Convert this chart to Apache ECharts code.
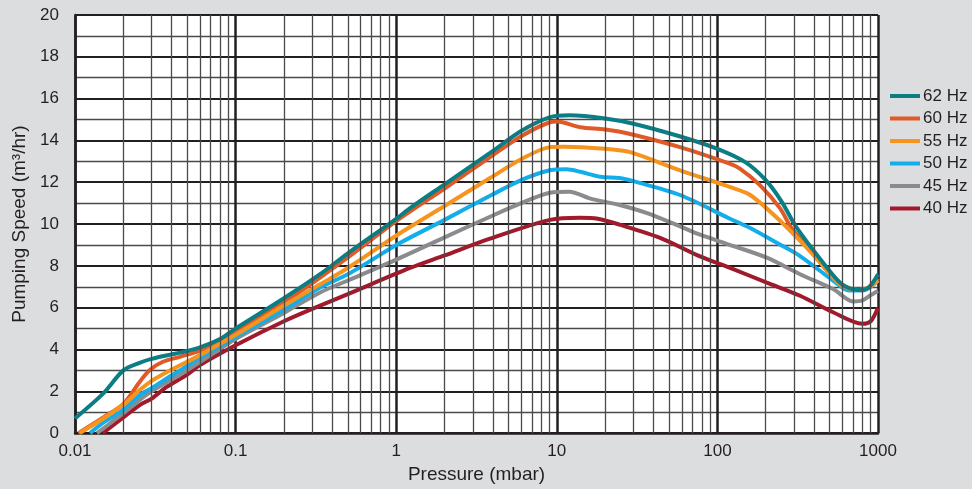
<!DOCTYPE html>
<html lang="en">
<head>
    <meta charset="UTF-8">
    <title>Pumping Speed</title>
    <style>
        html, body { margin: 0; padding: 0; background: #dcdddf; }
        #main { width: 972px; height: 489px; }
    </style>
</head>
<body>
    <div id="main"></div>
    <script src="https://cdn.jsdelivr.net/npm/echarts@6/dist/echarts.min.js"></script>
    <script>
        // pressure (mbar) / pumping speed (m3/hr)
        var p62 = [0.01, 0.015, 0.02, 0.025, 0.03, 0.045, 0.06, 0.08, 0.1, 0.2, 0.336, 0.5, 1, 1.22, 2, 3.84, 6, 9, 12, 20, 30, 58, 100, 150, 200, 250, 313, 450, 600, 750, 870, 1000];
        var s62 = [0.7, 1.9, 3.0, 3.35, 3.55, 3.85, 4.1, 4.5, 5.0, 6.45, 7.6, 8.6, 10.25, 10.76, 11.9, 13.4, 14.45, 15.1, 15.2, 15.05, 14.8, 14.2, 13.6, 12.95, 12.1, 11.1, 9.8, 8.2, 7.1, 6.85, 6.95, 7.6];

        var p60 = [0.0105, 0.015, 0.02, 0.025, 0.029, 0.035, 0.045, 0.06, 0.08, 0.1, 0.2, 0.336, 0.5, 1.06, 2, 3.84, 6, 9.07, 10, 14, 20, 28.6, 58.5, 118, 138, 184, 245, 290, 400, 580, 750, 870, 1000];
        var s60 = [0, 0.75, 1.4, 2.4, 3.0, 3.4, 3.65, 3.95, 4.4, 4.9, 6.25, 7.44, 8.4, 10.28, 11.7, 13.2, 14.2, 14.87, 14.9, 14.63, 14.52, 14.31, 13.68, 12.9, 12.65, 11.86, 10.76, 9.8, 8.5, 7.15, 6.85, 6.95, 7.4];

        var p55 = [0.0107, 0.015, 0.02, 0.0254, 0.03, 0.037, 0.06, 0.1, 0.2, 0.336, 0.5, 1.06, 2, 3.84, 6, 9.07, 11, 20, 28.6, 58.5, 118, 160, 250, 400, 580, 750, 870, 1000];
        var s55 = [0, 0.7, 1.36, 2.07, 2.5, 2.9, 3.73, 4.7, 6.1, 7.12, 7.9, 9.57, 10.86, 12.2, 13.1, 13.68, 13.7, 13.6, 13.44, 12.57, 11.79, 11.39, 10.1, 8.5, 7.12, 6.85, 6.95, 7.3];

        var p50 = [0.0124, 0.015, 0.02, 0.0254, 0.03, 0.037, 0.045, 0.06, 0.1, 0.2, 0.336, 0.5, 1.06, 2, 3.84, 6, 9.07, 11.5, 14, 18.6, 24.6, 30, 58.5, 118, 160, 245, 327, 525, 660, 800, 1000];
        var s50 = [0, 0.5, 1.12, 1.83, 2.15, 2.6, 3.0, 3.6, 4.6, 5.9, 6.97, 7.6, 9.1, 10.2, 11.35, 12.1, 12.57, 12.62, 12.5, 12.26, 12.2, 12.05, 11.39, 10.28, 9.81, 9.02, 8.47, 7.3, 6.82, 6.82, 7.3];

        var p45 = [0.0137, 0.02, 0.0254, 0.03, 0.045, 0.06, 0.1, 0.2, 0.336, 0.5, 1, 2, 3.84, 6, 9.07, 12, 16, 24.6, 36.5, 58.5, 78, 118, 203, 327, 525, 700, 800, 900, 1000];
        var s45 = [0, 0.95, 1.6, 2.0, 2.8, 3.4, 4.5, 5.75, 6.73, 7.3, 8.3, 9.36, 10.35, 11.0, 11.5, 11.55, 11.23, 10.91, 10.52, 9.89, 9.49, 9.02, 8.39, 7.6, 6.89, 6.3, 6.35, 6.6, 6.8];

        var p40 = [0.0149, 0.02, 0.0254, 0.03, 0.037, 0.05, 0.06, 0.1, 0.2, 0.336, 0.5, 1.22, 2, 3.84, 9.07, 14, 18, 24.6, 44, 78, 120, 203, 327, 525, 800, 900, 1000];
        var s40 = [0, 0.75, 1.35, 1.65, 2.2, 2.8, 3.25, 4.2, 5.35, 6.1, 6.65, 7.9, 8.5, 9.3, 10.2, 10.3, 10.25, 9.97, 9.34, 8.45, 7.9, 7.2, 6.57, 5.78, 5.23, 5.35, 6.0];

        var names = ['62 Hz', '60 Hz', '55 Hz', '50 Hz', '45 Hz', '40 Hz'];
        var colors = ['#0b7e85', '#e05a28', '#f7941e', '#13aeea', '#8a8b8e', '#a11a2b'];

        // intermediate log gridlines 2..9 per decade
        var minorPressures = [];
        [0.01, 0.1, 1, 10, 100].forEach(function (d) {
            for (var k = 2; k <= 9; k++) minorPressures.push(+(d * k).toPrecision(3));
        });

        var font = '"Liberation Sans Narrow", "Liberation Sans", sans-serif';
        var ink = '#231f20';

        function pairs(xs, ys) {
            return xs.map(function (x, i) { return [x, ys[i]]; });
        }

        function curve(idx, xs, ys) {
            return {
                name: names[idx],
                type: 'line',
                data: pairs(xs, ys),
                smooth: 0.3,
                symbol: 'none',
                z: 3,
                lineStyle: { width: 4, color: colors[idx] },
                itemStyle: { color: colors[idx] }
            };
        }

        var myChart = echarts.init(document.getElementById('main'));

        var option = {
            backgroundColor: '#dcdddf',
            animation: false,
            textStyle: { fontFamily: font },
            grid: {
                left: 75, right: 94, top: 15, bottom: 52,
                show: true, backgroundColor: '#ffffff', borderWidth: 0
            },
            legend: {
                orient: 'vertical',
                left: 885,
                top: 82,
                data: names,
                icon: 'rect',
                itemWidth: 30,
                itemHeight: 4,
                itemGap: 4.5,
                textStyle: { fontFamily: font, fontSize: 17, color: ink, lineHeight: 18, padding: [0, 0, 0, -2] }
            },
            xAxis: {
                type: 'log',
                logBase: 10,
                min: 0.01,
                max: 1000,
                name: 'Pressure (mbar)',
                nameLocation: 'middle',
                nameGap: 28,
                nameTextStyle: { fontFamily: font, fontSize: 19, color: ink },
                axisLine: { show: true, lineStyle: { color: ink, width: 2.5 } },
                axisTick: { show: false },
                axisLabel: {
                    fontFamily: font, fontSize: 17, color: ink, margin: 10,
                    formatter: function (v) { return String(parseFloat((+v).toPrecision(6))); }
                },
                splitLine: { show: true, lineStyle: { color: ink, width: 2.5 } }
            },
            yAxis: {
                type: 'value',
                min: 0,
                max: 20,
                interval: 2,
                name: 'Pumping Speed (m³/hr)',
                nameLocation: 'middle',
                nameGap: 41,
                nameTextStyle: { fontFamily: font, fontSize: 19, color: ink },
                axisLine: { show: true, lineStyle: { color: ink, width: 2.5 } },
                axisTick: { show: false },
                axisLabel: { fontFamily: font, fontSize: 17, color: ink, margin: 16 },
                splitLine: { show: true, lineStyle: { color: ink, width: 2 } },
                minorTick: { show: false, splitNumber: 2 },
                minorSplitLine: { show: true, lineStyle: { color: '#4a4a4a', width: 1.3 } }
            },
            series: [
                {
                    name: 'grid',
                    type: 'line',
                    data: [],
                    z: 1,
                    silent: true,
                    markLine: {
                        silent: true,
                        symbol: ['none', 'none'],
                        label: { show: false },
                        lineStyle: { color: '#4a4a4a', width: 1.3, type: 'solid' },
                        emphasis: { disabled: true },
                        data: minorPressures.map(function (v) { return { xAxis: v }; })
                    }
                },
                curve(5, p40, s40),
                curve(4, p45, s45),
                curve(3, p50, s50),
                curve(1, p60, s60),
                curve(2, p55, s55),
                curve(0, p62, s62)
            ]
        };

        myChart.setOption(option);
    </script>
</body>
</html>
